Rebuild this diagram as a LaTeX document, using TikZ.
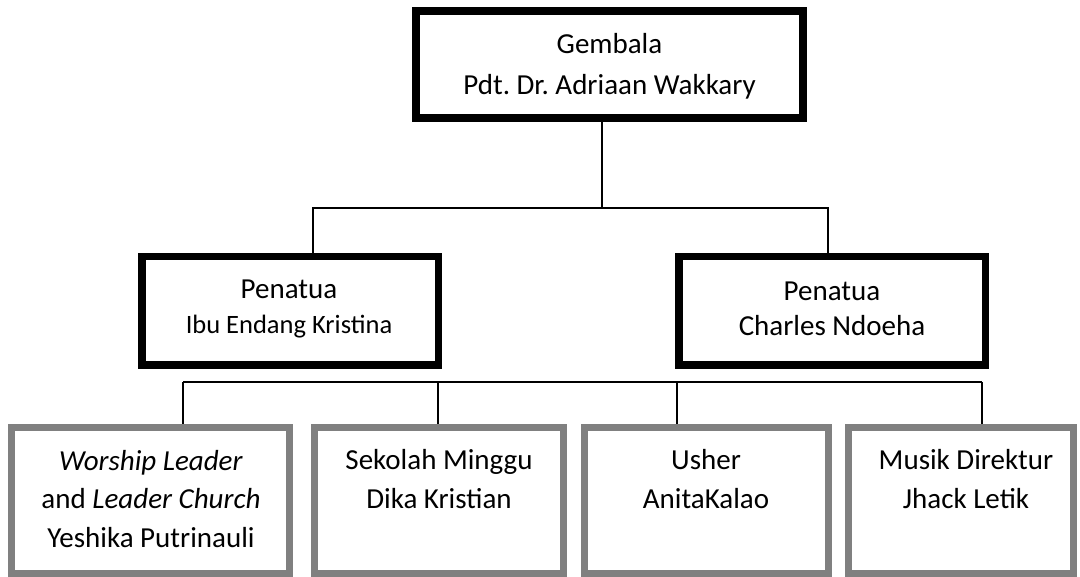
\documentclass[tikz,border=0pt]{standalone}
\usepackage{fontspec}
\setmainfont{Carlito}
\frenchspacing
\begin{document}
\begin{tikzpicture}[x=1pt,y=-1pt,
  boxbase/.style={rectangle,inner sep=0pt,fill=white},
  topbox/.style={boxbase,draw=black,line width=8pt},
  elderbox/.style={boxbase,draw=black,line width=7.5pt},
  staffbox/.style={boxbase,draw=staffgray,line width=7pt},
  link/.style={draw=black,line width=1.3pt},
  toptext/.style={anchor=base,align=center,inner sep=0pt,font=\fontsize{29}{41}\selectfont},
  eldertext/.style={anchor=base,align=center,inner sep=0pt,font=\fontsize{29}{35}\selectfont},
  stafftext/.style={anchor=base,align=center,inner sep=0pt,font=\fontsize{29}{38.5}\selectfont}]
\definecolor{staffgray}{RGB}{128,128,128}
\useasboundingbox (0,0) rectangle (1080,577);
\fill[white] (0,0) rectangle (1080,577);

% boxes
\node[topbox,minimum width=387pt,minimum height=107pt] (top) at (609.5,64.5) {};
\node[elderbox,minimum width=296.5pt,minimum height=108.5pt] (el) at (290,311) {};
\node[elderbox,minimum width=306.5pt,minimum height=108.5pt] (er) at (832,311) {};
\node[staffbox,minimum width=278pt,minimum height=146pt] (s1) at (150.5,500.5) {};
\node[staffbox,minimum width=249pt,minimum height=146pt] (s2) at (439,500.5) {};
\node[staffbox,minimum width=244pt,minimum height=146pt] (s3) at (706.5,500.5) {};
\node[staffbox,minimum width=225pt,minimum height=146pt] (s4) at (961,500.5) {};

% texts (anchored at the baseline of the last line)
\node[toptext] (topt) at (609.5,95) {Gembala\\Pdt. Dr. Adriaan Wakkary};
\node[eldertext] (elt) at (289,334) {Penatua\\{\fontsize{26.5}{34}\selectfont Ibu Endang Kristina}};
\node[eldertext] (ert) at (832,336) {Penatua\\Charles Ndoeha};
\node[stafftext] (s1t) at (151,547) {\textit{Worship Leader}\\and \textit{Leader Church}\\Yeshika Putrinauli};
\node[stafftext] (s2t) at (439,508) {Sekolah Minggu\\Dika Kristian};
\node[stafftext] (s3t) at (706,508) {Usher\\AnitaKalao};
\node[stafftext] (s4t) at (966,508) {Musik Direktur\\Jhack Letik};

% junctions
\coordinate (j0) at (602,208);
\coordinate (jl) at (313,208);
\coordinate (jr) at (828,208);
\coordinate (b1) at (183,382);
\coordinate (b2) at (438,382);
\coordinate (b3) at (677,382);
\coordinate (b4) at (982,382);

% connectors
\draw[link] (top.south -| j0) -- (j0);
\draw[link] (el.north -| jl) -- (jl) -- (jr) -- (er.north -| jr);
\draw[link] (b1) -- (b4);
\draw[link] (b1) -- (s1.north -| b1);
\draw[link] (b2) -- (s2.north -| b2);
\draw[link] (b3) -- (s3.north -| b3);
\draw[link] (b4) -- (s4.north -| b4);
\end{tikzpicture}
\end{document}
